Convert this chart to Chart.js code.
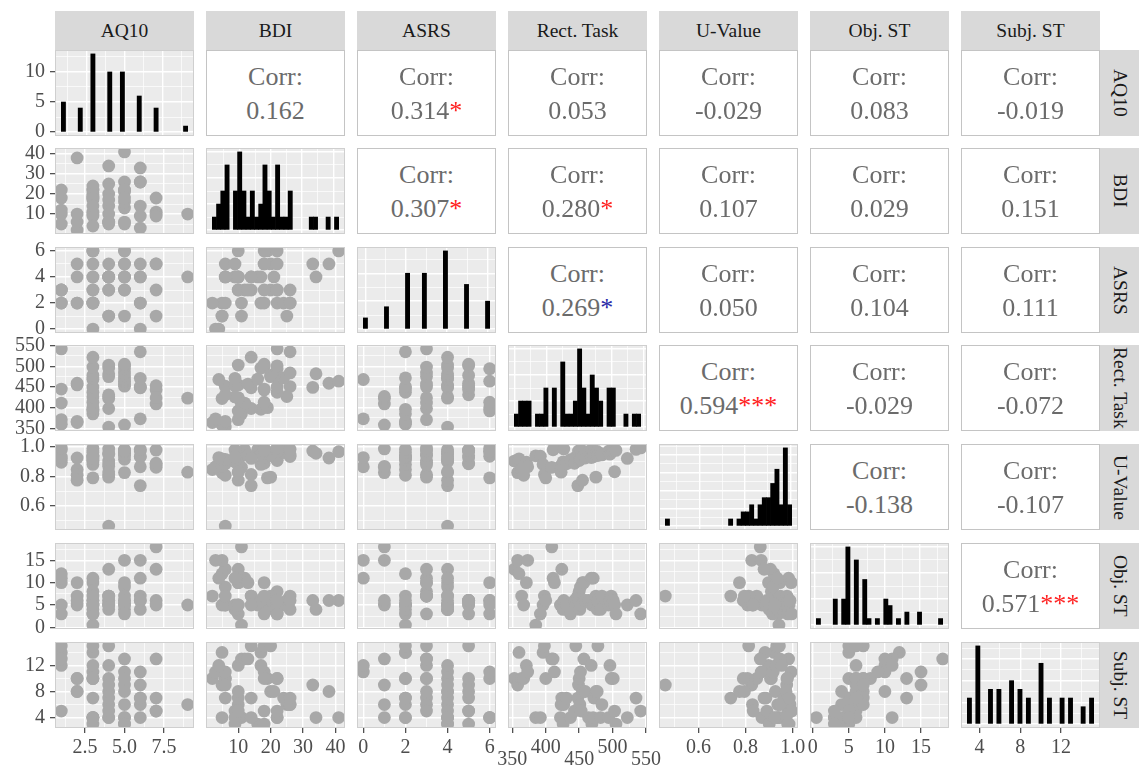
<!DOCTYPE html>
<html>
<head>
<meta charset="utf-8">
<script src="https://cdn.jsdelivr.net/npm/chart.js@4.4.1/dist/chart.umd.min.js"></script>
<style>
  body { margin: 0; background: #fff; width: 1139px; height: 772px; position: relative; overflow: hidden;
         font-family: "Liberation Serif", "Times New Roman", serif; }
  .strip { position: absolute; background: #d9d9d9; color: #1a1a1a; font-size: 19.5px;
           display: flex; align-items: center; justify-content: center; white-space: nowrap; overflow: hidden; }
  .strip.right { writing-mode: vertical-rl; }
  .upper { position: absolute; background: #fff; border: 1px solid #c4c4c4; box-sizing: border-box;
           color: #6b6b6b; font-size: 26px; text-align: center; display: flex; flex-direction: column;
           justify-content: center; line-height: 34px; padding-top: 2px; }
  canvas { position: absolute; }
</style>
</head>
<body>
<script>
/* ===============================
   DATA (one entry per participant)
================================= */
const varNames = ["AQ10", "BDI", "ASRS", "Rect. Task", "U-Value", "Obj. ST", "Subj. ST"];

const aq10 = [4,5,1,2,2,1,6,3,3,3,4,3,7,1,3,4,9,7,3,4,4,3,7,1,6,6,3,6,5,7,2,5,2,5,3,5,6,3,4,5,3,4,5,5,4,3,5,4,5,3,6,1,4];
const bdi = [6,5,5,2,6,10,3,11,10,17,14,19,11,12,18,5,10,10,9,25,6,22,18,18,14,33,22,26,6,9,10,13,38,41,4,16,9,24,20,21,20,34,26,22,17,18,22,10,18,14,26,22,6];
const asrs = [4,1,2,2,2,3,0,2,6,2,3,6,1,3,6,1,4,3,4,1,5,2,5,2,4,5,3,2,4,5,4,3,5,6,0,4,4,2,3,4,5,4,3,6,4,3,5,4,5,4,2,3,4];
const rectTask = [353,358,360,364,367,371,373,385,392,396,398,400,409,411,413,422,423,424,426,427,431,437,443,445,448,449,450,451,452,453,455,457,459,464,468,469,471,472,475,477,478,482,484,494,496,498,501,503,505,522,535,542,null];
const uValue = [0.905,0.826,0.92,0.847,0.808,0.897,0.866,0.941,0.938,0.882,0.813,0.79,0.862,0.982,0.993,0.869,0.829,0.878,0.9,0.988,0.886,0.914,0.89,0.932,0.737,0.974,0.909,0.936,0.917,0.98,0.774,0.945,0.926,0.969,0.929,0.984,0.934,0.963,0.795,0.971,0.943,0.958,0.947,0.972,0.952,0.975,0.977,0.832,0.978,0.923,0.985,0.995,0.46];
const objST = [13,15,12,7,5,10,15,0.5,3,5,7,6,18,11,10,5,5,13,4,6,5,3,6,5,7,6,8,4,9,5,10,10,6,6,11,5,11,5,7,4,6,4,7,5,6,7,6,5,3,5,6,3,7];
const subjST = [10,9,14,10,10,12,11,4,4,14,15,10,13,13,11,4,6,7,3,6,7,4,5,15,7,9,10,6,11,5,8,13,8,4,12,3,4,7,8,8,15,4,6,4,12,10,10,5,3,4,7,5,9];

const columns = [aq10, bdi, asrs, rectTask, uValue, objST, subjST];

/* axis breaks of every variable */
const majorBreaks = [[2.5,5,7.5],[10,20,30,40],[0,2,4,6],[350,400,450,500,550],[0.6,0.8,1.0],[0,5,10,15],[4,8,12]];
const minorBreaks = [[1.25,3.75,6.25,8.75],[5,15,25,35],[1,3,5],[375,425,475,525],[0.5,0.7,0.9],[2.5,7.5,12.5,17.5],[2,6,10,14]];
const tickDecimals = [1,0,0,0,1,0,0];
const staggerLow = [350,450,550];   // Rect. Task labels pushed one line down

/* count axis of the diagonal histograms */
const countMajor = [[0,5,10],[0,2,4,6],[0,5,10],[0,2,4,6],[0,2.5,5,7.5,10],[0,4,8,12],[0,2.5,5,7.5]];
const countMinor = [[2.5,7.5,12.5],[1,3,5],[2.5,7.5,12.5],[1,3,5],[1.25,3.75,6.25,8.75,11.25],[2,6,10],[1.25,3.75,6.25,8.75]];

/* correlations printed in the upper triangle */
const corrRow = [0,0,0,0,0,0,1,1,1,1,1,2,2,2,2,3,3,3,4,4,5];
const corrCol = [1,2,3,4,5,6,2,3,4,5,6,3,4,5,6,4,5,6,5,6,6];
const corrText = ["0.162","0.314","0.053","-0.029","0.083","-0.019","0.307","0.280","0.107","0.029","0.151",
                  "0.269","0.050","0.104","0.111","0.594","-0.029","-0.072","-0.138","-0.107","0.571"];
const corrStars = ["","*","","","","","*","*","","","","*","","","","***","","","","","***"];
const starColors = ["","#ff2020","","","","","#ff2020","#ff2020","","","","#2a2aa8","","","","#ff2020","","","","","#ff2020"];

/* ===============================
   LAYOUT
================================= */
const FONT = "Liberation Serif";
const COL_X = [55, 206, 357, 508, 659, 810, 961];
const ROW_Y = [50, 148, 247, 345, 444, 543, 642];
const PW = 139, PH = 86;
const PAD = 22, AXIS_W = 55, AXIS_H = 46;
const DOT = "#a8a8a8";

Chart.defaults.font.family = FONT;

/* ===============================
   HELPERS
================================= */
function dataRange(arr) {
  const v = arr.filter(x => x !== null);
  return [Math.min(...v), Math.max(...v)];
}

function expand(lo, hi) {
  const d = (hi - lo) * 0.05;
  return [lo - d, hi + d];
}

// 30 bins, width = range / 29, right-closed (like geom_histogram defaults)
function histogram(arr) {
  const [lo, hi] = dataRange(arr);
  const w = (hi - lo) / 29;
  const counts = new Array(30).fill(0);
  arr.forEach(v => {
    if (v === null) return;
    let k = Math.ceil((v - lo + w / 2) / w - 1e-7) - 1;
    counts[Math.max(0, Math.min(29, k))]++;
  });
  return { lo, hi, w, counts };
}

function makeAxis(o) {
  const isX = o.pos === "bottom";
  const list = [];
  o.major.forEach(v => { if (v >= o.range[0] && v <= o.range[1]) list.push({ value: v, minor: false }); });
  o.minor.forEach(v => { if (v >= o.range[0] && v <= o.range[1]) list.push({ value: v, minor: true }); });
  list.sort((a, b) => a.value - b.value);

  return {
    type: "linear",
    position: o.pos,
    min: o.range[0],
    max: o.range[1],
    offset: false,
    afterBuildTicks: s => { s.ticks = list.map(t => ({ value: t.value, minor: t.minor })); },
    afterFit: s => {
      if (isX) s.height = o.show ? AXIS_H : 0;
      else s.width = o.show ? AXIS_W : 0;
      s.paddingLeft = s.paddingRight = s.paddingTop = s.paddingBottom = 0;
    },
    border: { display: false },
    grid: {
      offset: false,
      color: "#ffffff",
      lineWidth: c => (c.tick && c.tick.minor ? 0.7 : 1.4),
      drawTicks: o.show,
      tickLength: 5,
      tickWidth: 1.1,
      tickColor: c => (c.tick && c.tick.minor ? "rgba(0,0,0,0)" : "#333333"),
    },
    ticks: {
      display: o.show,
      autoSkip: false,
      maxRotation: 0,
      minRotation: 0,
      padding: isX ? 8 : 5,
      color: "#4d4d4d",
      font: { family: FONT, size: 20, lineHeight: isX ? "12.5px" : 1.2 },
      callback: (v, i, arr) => {
        if (arr[i].minor) return "";
        const txt = v.toFixed(o.decimals);
        if (o.stagger && staggerLow.includes(v)) return ["", txt];
        return txt;
      },
    },
  };
}

const panelBg = {
  id: "panelBg",
  beforeDraw(chart) {
    const a = chart.chartArea, ctx = chart.ctx;
    ctx.save();
    ctx.fillStyle = "#ebebeb";
    ctx.fillRect(a.left, a.top, a.right - a.left, a.bottom - a.top);
    ctx.restore();
  },
  afterDraw(chart) {
    const a = chart.chartArea, ctx = chart.ctx;
    ctx.save();
    ctx.strokeStyle = "#cfcfcf";
    ctx.lineWidth = 1;
    ctx.strokeRect(a.left + 0.5, a.top + 0.5, a.right - a.left - 1, a.bottom - a.top - 1);
    ctx.restore();
  },
};

function addCanvas(r, c) {
  const left = COL_X[c] - (c === 0 ? AXIS_W : PAD);
  const top = ROW_Y[r] - PAD;
  const w = PW + (c === 0 ? AXIS_W : PAD) + PAD;
  const h = PH + PAD + (r === 6 ? AXIS_H : PAD);
  const cv = document.createElement("canvas");
  cv.width = w; cv.height = h;
  cv.style.left = left + "px"; cv.style.top = top + "px";
  cv.style.width = w + "px"; cv.style.height = h + "px";
  document.body.appendChild(cv);
  return cv;
}

function baseOptions(r, c, xAxis, yAxis) {
  return {
    responsive: false,
    animation: false,
    events: [],
    layout: { padding: { left: c === 0 ? 0 : PAD, right: PAD, top: PAD, bottom: r === 6 ? 0 : PAD } },
    plugins: { legend: { display: false }, tooltip: { enabled: false } },
    scales: { x: xAxis, y: yAxis },
  };
}

/* ===============================
   DIAGONAL: HISTOGRAMS
================================= */
function drawHistogram(i) {
  const h = histogram(columns[i]);
  const xr = expand(h.lo - h.w / 2, h.hi + h.w / 2);
  const maxC = Math.max(...h.counts);
  const yr = [-0.05 * maxC, 1.05 * maxC];
  const xAxis = makeAxis({ pos: "bottom", range: xr, major: majorBreaks[i], minor: minorBreaks[i],
                           decimals: tickDecimals[i], show: i === 6, stagger: i === 3 });
  const yAxis = makeAxis({ pos: "left", range: yr, major: countMajor[i], minor: countMinor[i],
                           decimals: 0, show: i === 0 });
  new Chart(addCanvas(i, i), {
    type: "bar",
    data: {
      datasets: [{
        // empty bins stay null so no hairline is drawn on the baseline
        data: h.counts.map((n, k) => ({ x: h.lo + k * h.w, y: n > 0 ? n : null })),
        backgroundColor: "#000000",
        borderWidth: 0,
        barPercentage: 1,
        categoryPercentage: 1,
      }],
    },
    options: baseOptions(i, i, xAxis, yAxis),
    plugins: [panelBg],
  });
}

/* ===============================
   LOWER TRIANGLE: SCATTER PLOTS
================================= */
function drawScatter(r, c) {
  const xs = columns[c], ys = columns[r];
  const pts = [];
  xs.forEach((x, k) => { if (x !== null && ys[k] !== null) pts.push({ x: x, y: ys[k] }); });
  // scales are trained on the full columns, as ggplot does
  const xr = expand(...dataRange(xs));
  const yr = expand(...dataRange(ys));
  const xAxis = makeAxis({ pos: "bottom", range: xr, major: majorBreaks[c], minor: minorBreaks[c],
                           decimals: tickDecimals[c], show: r === 6, stagger: c === 3 });
  const yAxis = makeAxis({ pos: "left", range: yr, major: majorBreaks[r], minor: minorBreaks[r],
                           decimals: tickDecimals[r], show: c === 0 });
  new Chart(addCanvas(r, c), {
    type: "scatter",
    data: {
      datasets: [{
        data: pts,
        pointRadius: 6.4,
        pointBackgroundColor: DOT,
        pointBorderWidth: 0,
        clip: 0,
      }],
    },
    options: baseOptions(r, c, xAxis, yAxis),
    plugins: [panelBg],
  });
}

/* ===============================
   UPPER TRIANGLE: CORRELATION TEXT
================================= */
function drawCorr(k) {
  const r = corrRow[k], c = corrCol[k];
  const d = document.createElement("div");
  d.className = "upper";
  d.style.left = COL_X[c] + "px";
  d.style.top = ROW_Y[r] + "px";
  d.style.width = PW + "px";
  d.style.height = PH + "px";
  const l1 = document.createElement("div");
  l1.textContent = "Corr:";
  const l2 = document.createElement("div");
  l2.textContent = corrText[k];
  if (corrStars[k]) {
    const s = document.createElement("span");
    s.textContent = corrStars[k];
    s.style.color = starColors[k];
    l2.appendChild(s);
  }
  d.appendChild(l1);
  d.appendChild(l2);
  document.body.appendChild(d);
}

/* ===============================
   STRIPS
================================= */
function drawStrips() {
  varNames.forEach((name, i) => {
    const t = document.createElement("div");
    t.className = "strip";
    t.textContent = name;
    Object.assign(t.style, { left: COL_X[i] + "px", top: "11px", width: PW + "px", height: "39px" });
    document.body.appendChild(t);

    const s = document.createElement("div");
    s.className = "strip right";
    s.textContent = name;
    Object.assign(s.style, { left: (COL_X[6] + PW) + "px", top: ROW_Y[i] + "px", width: "39px", height: PH + "px" });
    document.body.appendChild(s);
  });
}

/* ===============================
   BUILD
================================= */
drawStrips();
for (let r = 0; r < 7; r++) {
  for (let c = 0; c < r; c++) drawScatter(r, c);
  drawHistogram(r);
}
corrText.forEach((_, k) => drawCorr(k));
</script>
</body>
</html>
